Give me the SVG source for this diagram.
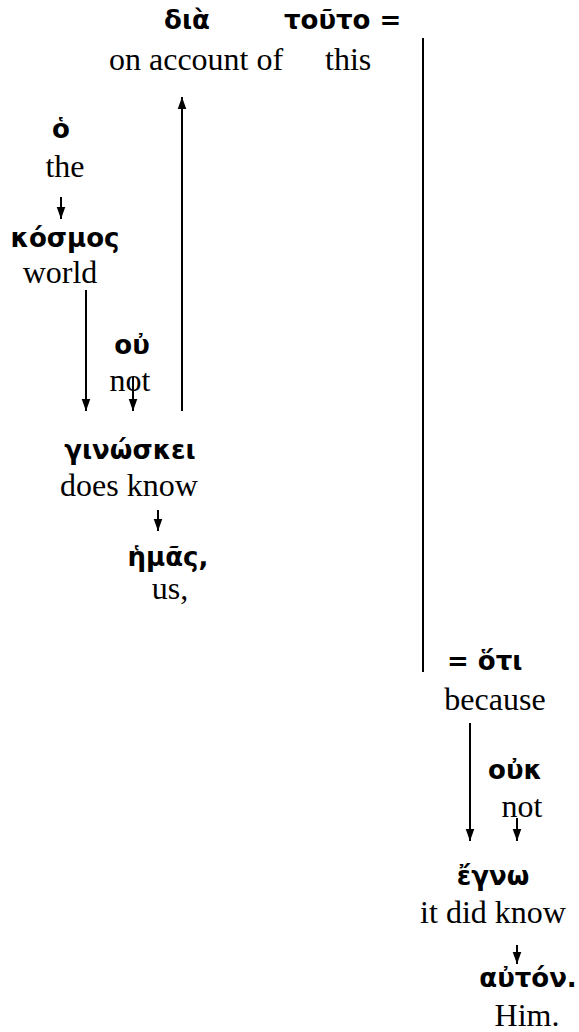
<svg xmlns="http://www.w3.org/2000/svg" width="579" height="1032" viewBox="0 0 579 1032">
<style>
.g{font-family:"DejaVu Sans",sans-serif;font-weight:bold;font-size:26px;fill:#000}
.e{font-family:"Liberation Serif","Times New Roman",serif;font-size:32px;fill:#000}
.m{text-anchor:middle}
.ln{stroke:#000;stroke-width:2;fill:none}
</style>
<defs>
<marker id="ah" markerUnits="userSpaceOnUse" markerWidth="12" markerHeight="14" viewBox="0 0 14 12" refX="14" refY="6" orient="auto">
<path d="M0,1 L14,6 L0,11 Z" fill="#000"/>
</marker>
</defs>
<rect width="579" height="1032" fill="#fff"/>
<g id="connectors">
<line class="ln" x1="423" y1="38" x2="423" y2="672"/>
<line class="ln" x1="182" y1="411" x2="182" y2="97" marker-end="url(#ah)"/>
<line class="ln" x1="61" y1="197" x2="61" y2="219" marker-end="url(#ah)"/>
<line class="ln" x1="86" y1="290" x2="86" y2="411" marker-end="url(#ah)"/>
<line class="ln" x1="133" y1="377" x2="133" y2="411" marker-end="url(#ah)"/>
<line class="ln" x1="158" y1="510" x2="158" y2="531" marker-end="url(#ah)"/>
<line class="ln" x1="470" y1="723" x2="470" y2="841" marker-end="url(#ah)"/>
<line class="ln" x1="517" y1="818" x2="517" y2="841" marker-end="url(#ah)"/>
<line class="ln" x1="517" y1="945" x2="517" y2="964" marker-end="url(#ah)"/>
</g>
<g id="dia"><text class="g m" x="187" y="29">διὰ</text><text class="e" x="109" y="70">on account of</text></g>
<g id="touto"><text class="g" x="284" y="29">τοῦτο =</text><text class="e" x="325" y="70">this</text></g>
<g id="ho"><text class="g m" x="61" y="138">ὁ</text><text class="e m" x="65" y="177">the</text></g>
<g id="kosmos"><text class="g m" x="65" y="247">κόσμος</text><text class="e m" x="60" y="283">world</text></g>
<g id="ou"><text class="g m" x="132" y="354">οὐ</text><text class="e m" x="130" y="391">not</text></g>
<g id="ginoskei"><text class="g m" x="130" y="459">γινώσκει</text><text class="e m" x="129" y="496">does know</text></g>
<g id="hemas"><text class="g m" x="168" y="566">ἡμᾶς,</text><text class="e m" x="170" y="599">us,</text></g>
<g id="hoti"><text class="g" x="447" y="670">= ὅτι</text><text class="e m" x="495" y="710">because</text></g>
<g id="ouk"><text class="g m" x="515" y="779">οὐκ</text><text class="e m" x="522" y="817">not</text></g>
<g id="egno"><text class="g m" x="493" y="885">ἔγνω</text><text class="e m" x="493" y="923">it did know</text></g>
<g id="auton"><text class="g m" x="528" y="987">αὐτόν.</text><text class="e m" x="527" y="1026">Him.</text></g>
</svg>
